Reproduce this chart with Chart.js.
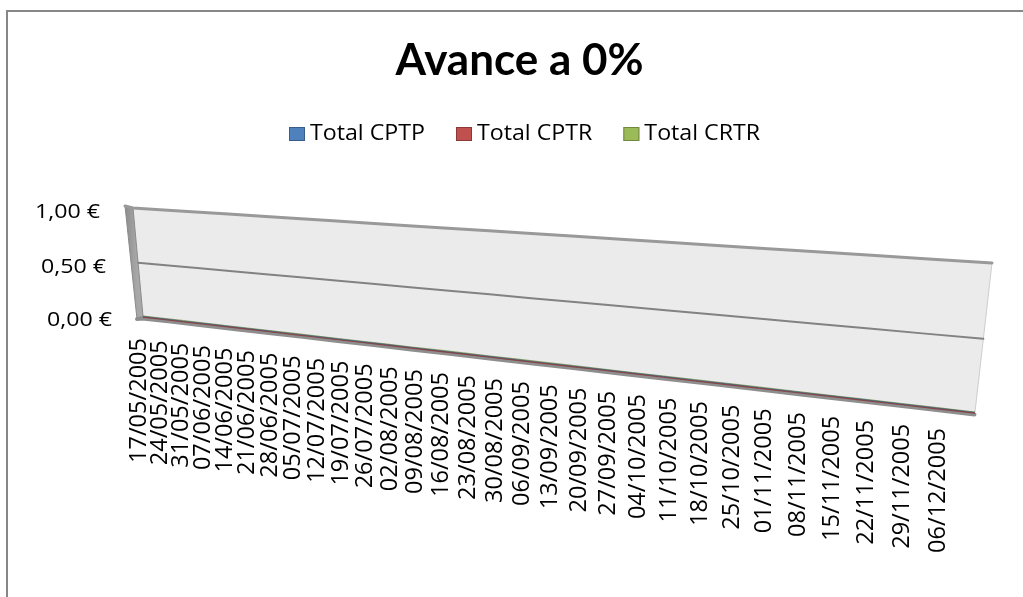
<!DOCTYPE html>
<html>
<head>
<meta charset="utf-8">
<title>Avance a 0%</title>
<script src="https://cdn.jsdelivr.net/npm/chart.js@4/dist/chart.umd.min.js"></script>
<style>
  html, body { margin: 0; padding: 0; background: #fff; overflow: hidden; }
  #wrap { position: relative; width: 1023px; height: 597px; }
</style>
</head>
<body>
<div id="wrap"><canvas id="chart" width="1023" height="597"></canvas></div>
<script>
// Weekly reporting dates
const categories = [
  '17/05/2005', '24/05/2005', '31/05/2005', '07/06/2005', '14/06/2005',
  '21/06/2005', '28/06/2005', '05/07/2005', '12/07/2005', '19/07/2005',
  '26/07/2005', '02/08/2005', '09/08/2005', '16/08/2005', '23/08/2005',
  '30/08/2005', '06/09/2005', '13/09/2005', '20/09/2005', '27/09/2005',
  '04/10/2005', '11/10/2005', '18/10/2005', '25/10/2005', '01/11/2005',
  '08/11/2005', '15/11/2005', '22/11/2005', '29/11/2005', '06/12/2005'
];

// Cost totals per week (no progress yet)
const totalCPTP = [0, 0, 0, 0, 0, 0, 0, 0, 0, 0, 0, 0, 0, 0, 0, 0, 0, 0, 0, 0, 0, 0, 0, 0, 0, 0, 0, 0, 0, 0];
const totalCPTR = [0, 0, 0, 0, 0, 0, 0, 0, 0, 0, 0, 0, 0, 0, 0, 0, 0, 0, 0, 0, 0, 0, 0, 0, 0, 0, 0, 0, 0, 0];
const totalCRTR = [0, 0, 0, 0, 0, 0, 0, 0, 0, 0, 0, 0, 0, 0, 0, 0, 0, 0, 0, 0, 0, 0, 0, 0, 0, 0, 0, 0, 0, 0];

const seriesNames = ['Total CPTP', 'Total CPTR', 'Total CRTR'];

// Value axis ticks
const yTickValues = [0, 0.5, 1];
const yTickLabels = ['0,00 €', '0,50 €', '1,00 €'];

// Look of the 3-D view
const TITLE_FONT = 'Lato, "Open Sans", sans-serif';
const FONT = '"Open Sans", Lato, "DejaVu Sans", sans-serif';
const colors = {
  fill:   ['#4f81bd', '#c0504d', '#9bbb59'],
  border: ['#385d8a', '#8c3836', '#71893f'],
  wall: '#ebebeb',
  grid: '#828282',
  wallTop: '#999999',
  floor: '#8e8e8e',
  frame: '#878787',
  text: '#000000'
};
const view = {
  wall: { bl: [143, 316], br: [975, 412], tr: [992, 263], tl: [133, 208] },
  sideDepthTop: [-8, -2],
  sideDepthBottom: [-6, 3],
  labelLine: { from: [129.7, 336.8], to: [957.4, 430], foreshorten: 0.74 },
  xLabel: { size: 23, length: 125 },
  yLabel: { size: 20.5, width: 65, gap: 25, shift: 4 },
  legend: { left: 289, centerY: 134, box: [16, 14], textGap: 5, itemGap: 31, size: 22.5, width: 115 }
};

// Projective map from the unit square (u right, v up) onto the wall quad
function makeProjection(q) {
  const [x0, y0] = q.bl, [x1, y1] = q.br, [x2, y2] = q.tr, [x3, y3] = q.tl;
  const sx = x0 - x1 + x2 - x3, sy = y0 - y1 + y2 - y3;
  const dx1 = x1 - x2, dx2 = x3 - x2, dy1 = y1 - y2, dy2 = y3 - y2;
  const den = dx1 * dy2 - dx2 * dy1;
  const g = (sx * dy2 - dx2 * sy) / den;
  const h = (dx1 * sy - sx * dy1) / den;
  const a = x1 - x0 + g * x1, b = x3 - x0 + h * x3, c = x0;
  const d = y1 - y0 + g * y1, e = y3 - y0 + h * y3, f = y0;
  return (u, v) => {
    const w = g * u + h * v + 1;
    return [(a * u + b * v + c) / w, (d * u + e * v + f) / w];
  };
}
const P = makeProjection(view.wall);
const lerp = (p, q, t) => [p[0] + (q[0] - p[0]) * t, p[1] + (q[1] - p[1]) * t];
const sideOuter = v => {
  const p = P(0, v);
  const dd = lerp(view.sideDepthBottom, view.sideDepthTop, v);
  return [p[0] + dd[0], p[1] + dd[1]];
};

function poly(ctx, pts) {
  ctx.beginPath();
  ctx.moveTo(pts[0][0], pts[0][1]);
  for (let i = 1; i < pts.length; i++) ctx.lineTo(pts[i][0], pts[i][1]);
  ctx.closePath();
}

// horizontal scale so that `sample` spans `target` pixels
function stretchFor(ctx, sample, target) {
  return target / ctx.measureText(sample).width;
}

const perspectivePlugin = {
  id: 'perspective3d',
  beforeDraw(chart) {
    const ctx = chart.ctx;
    ctx.save();
    ctx.strokeStyle = colors.frame;
    ctx.lineWidth = 2;
    ctx.beginPath();
    ctx.moveTo(7, chart.height + 2);
    ctx.lineTo(7, 11);
    ctx.lineTo(chart.width + 2, 11);
    ctx.stroke();
    ctx.restore();
  },
  beforeDatasetsDraw(chart) {
    const ctx = chart.ctx;
    const area = chart.chartArea;
    const xs = chart.scales.x, ys = chart.scales.y;
    const toU = px => (px - area.left) / (area.right - area.left);
    const toV = py => (area.bottom - py) / (area.bottom - area.top);

    ctx.save();
    // back wall
    poly(ctx, [P(0, 0), P(1, 0), P(1, 1), P(0, 1)]);
    ctx.fillStyle = colors.wall;
    ctx.fill();
    ctx.strokeStyle = '#cdcdcd';
    ctx.lineWidth = 1;
    ctx.beginPath();
    ctx.moveTo(...P(1, 1));
    ctx.lineTo(...P(1, 0));
    ctx.stroke();

    // side wall
    const sideGrad = ctx.createLinearGradient(sideOuter(1)[0], 0, P(0, 1)[0] + 4, 0);
    sideGrad.addColorStop(0, '#8c8c8c');
    sideGrad.addColorStop(1, '#a8a8a8');
    poly(ctx, [sideOuter(0), P(0, 0), P(0, 1), sideOuter(1)]);
    ctx.fillStyle = sideGrad;
    ctx.fill();
    ctx.strokeStyle = '#8a8a8a';
    ctx.lineWidth = 1;
    ctx.stroke();

    // floor edge
    ctx.strokeStyle = colors.floor;
    ctx.lineWidth = 4;
    ctx.lineCap = 'round';
    ctx.beginPath();
    const f0 = sideOuter(0);
    ctx.moveTo(f0[0], f0[1]);
    for (let k = 0; k <= 20; k++) {
      const p = P(k / 20, 0);
      ctx.lineTo(p[0] - 0.5, p[1] + 2.4);
    }
    ctx.stroke();

    // gridlines from the value scale
    yTickValues.forEach(val => {
      if (val === 0) return;
      const v = toV(ys.getPixelForValue(val));
      const top = val === ys.max;
      ctx.strokeStyle = top ? colors.wallTop : colors.grid;
      ctx.lineWidth = top ? 3 : 2;
      ctx.beginPath();
      if (top) {
        ctx.moveTo(...sideOuter(v));
        ctx.lineTo(...P(0, v));
      } else {
        ctx.moveTo(...P(0, v));
      }
      for (let k = 1; k <= 20; k++) ctx.lineTo(...P(k / 20, v));
      ctx.stroke();
    });

    // columns, projected from their bar elements (series stacked in depth)
    ctx.lineCap = 'butt';
    const depthOrder = [2, 0, 1];
    depthOrder.forEach((di, row) => {
      const ds = chart.data.datasets[di];
      const meta = chart.getDatasetMeta(di);
      if (meta.hidden) return;
      meta.data.forEach(el => {
        const u0 = toU(el.x - el.width / 2), u1 = toU(el.x + el.width / 2);
        const vt = toV(el.y), vb = toV(el.base);
        const pts = [P(u0, vb), P(u1, vb), P(u1, vt), P(u0, vt)];
        poly(ctx, pts);
        ctx.fillStyle = ds.backgroundColor;
        ctx.fill();
        ctx.globalAlpha = 0.8;
        ctx.strokeStyle = ds.borderColor;
        ctx.lineWidth = 1.2;
        ctx.beginPath();
        ctx.moveTo(pts[3][0], pts[3][1] + row * 0.6);
        ctx.lineTo(pts[2][0], pts[2][1] + row * 0.6);
        ctx.stroke();
        ctx.globalAlpha = 1;
      });
    });

    ctx.fillStyle = colors.text;
    ctx.textBaseline = 'middle';

    // value labels
    ctx.font = view.yLabel.size + 'px ' + FONT;
    ctx.textAlign = 'right';
    const ySx = stretchFor(ctx, '1,00 €', view.yLabel.width);
    yTickValues.forEach((val, i) => {
      const v = toV(ys.getPixelForValue(val));
      const o = sideOuter(v);
      const p = P(0, v);
      ctx.save();
      ctx.translate(o[0] - view.yLabel.gap, p[1] + view.yLabel.shift);
      ctx.scale(ySx, 1);
      ctx.fillText(yTickLabels[i], 0, 0);
      ctx.restore();
    });

    // category labels along the front edge
    const r = view.labelLine.foreshorten;
    ctx.font = view.xLabel.size + 'px ' + FONT;
    ctx.textAlign = 'right';
    const xSx = stretchFor(ctx, chart.data.labels[0], view.xLabel.length);
    chart.data.labels.forEach((lab, i) => {
      const u = toU(xs.getPixelForValue(i));
      const t = u * r / (1 + u * (r - 1));
      const a = lerp(view.labelLine.from, view.labelLine.to, t);
      ctx.save();
      ctx.translate(a[0], a[1]);
      ctx.rotate(-Math.PI / 2);
      ctx.scale(xSx, 1);
      ctx.fillText(lab, 0, 0);
      ctx.restore();
    });
    ctx.restore();
    return false;
  },
  afterDraw(chart) {
    // series key
    const ctx = chart.ctx;
    const L = view.legend;
    ctx.save();
    ctx.font = L.size + 'px ' + FONT;
    ctx.textBaseline = 'middle';
    ctx.textAlign = 'left';
    const sx = stretchFor(ctx, chart.data.datasets[0].label, L.width);
    let x = L.left;
    chart.data.datasets.forEach(ds => {
      const w = ctx.measureText(ds.label).width * sx;
      ctx.fillStyle = ds.backgroundColor;
      ctx.fillRect(x, L.centerY - L.box[1] / 2, L.box[0], L.box[1]);
      ctx.strokeStyle = ds.borderColor;
      ctx.lineWidth = 1;
      ctx.strokeRect(x + 0.5, L.centerY - L.box[1] / 2 + 0.5, L.box[0] - 1, L.box[1] - 1);
      x += L.box[0] + L.textGap;
      ctx.fillStyle = colors.text;
      ctx.save();
      ctx.translate(x, L.centerY);
      ctx.scale(sx, 1);
      ctx.fillText(ds.label, 0, 0);
      ctx.restore();
      x += w + L.itemGap;
    });
    ctx.restore();
  }
};

const chart = new Chart(document.getElementById('chart'), {
  type: 'bar',
  data: {
    labels: categories,
    datasets: [
      { label: seriesNames[0], data: totalCPTP, backgroundColor: colors.fill[0], borderColor: colors.border[0], borderWidth: 0 },
      { label: seriesNames[1], data: totalCPTR, backgroundColor: colors.fill[1], borderColor: colors.border[1], borderWidth: 0 },
      { label: seriesNames[2], data: totalCRTR, backgroundColor: colors.fill[2], borderColor: colors.border[2], borderWidth: 0 }
    ]
  },
  options: {
    responsive: false,
    animation: false,
    grouped: false,
    categoryPercentage: 1,
    barPercentage: 1,
    layout: { padding: { left: 16, top: 12, right: 0, bottom: 0 } },
    scales: {
      x: { display: false },
      y: { display: false, min: 0, max: 1 }
    },
    plugins: {
      tooltip: { enabled: false },
      legend: { display: false },
      title: {
        display: true,
        text: 'Avance a 0%',
        color: colors.text,
        font: { family: TITLE_FONT, size: 44, weight: 'bold' },
        padding: { top: 22, bottom: 60 }
      }
    }
  },
  plugins: [perspectivePlugin]
});
</script>
</body>
</html>
